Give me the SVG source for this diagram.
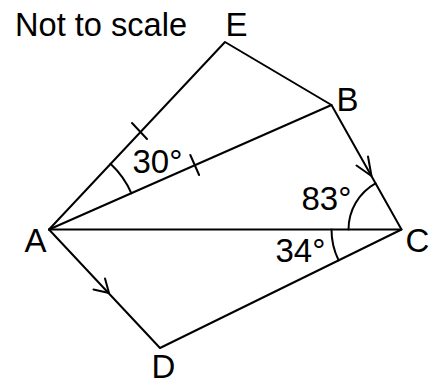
<svg xmlns="http://www.w3.org/2000/svg" width="433" height="388" viewBox="0 0 433 388">
<style>
.l{stroke:#000;stroke-width:2;fill:none;stroke-linecap:round;stroke-linejoin:round}
.t{font-family:"Liberation Sans",Arial,sans-serif;font-size:33px;fill:#000}
</style>
<rect width="433" height="388" fill="#fff"/>
<g id="connectors" class="l">
<path d="M49,229.5 L225,42 L331.5,105 L401.5,229.5 L160,348 Z"/>
<path d="M49,229.5 L331.5,105"/>
<path d="M49,229.5 L401.5,229.5"/>
<path d="M132,123 L147,139"/>
<path d="M190.3,155 L199.1,175"/>
<path d="M356.5,165.5 L371.5,176 L368,156.5"/>
<path d="M93.5,289.5 L109,293 L105,278.5"/>
<path d="M110.5,163.8 A90,90 0 0 1 131.4,193.3"/>
<path d="M375.5,183.3 A53,53 0 0 0 348.5,229.5"/>
<path d="M331.5,229.5 A70,70 0 0 0 338.6,260.3"/>
</g>
<g id="note"><text class="t" x="15" y="36" textLength="172" lengthAdjust="spacingAndGlyphs">Not to scale</text></g>
<g id="A"><text class="t" x="24.5" y="252">A</text></g>
<g id="B"><text class="t" x="336.5" y="111">B</text></g>
<g id="C"><text class="t" x="405.5" y="252">C</text></g>
<g id="D"><text class="t" x="151.5" y="378">D</text></g>
<g id="E"><text class="t" x="225.5" y="36">E</text></g>
<g id="angleA"><text class="t" x="132.5" y="173">30°</text></g>
<g id="angleBCA"><text class="t" x="301.5" y="210">83°</text></g>
<g id="angleACD"><text class="t" x="275.5" y="262">34°</text></g>
</svg>
